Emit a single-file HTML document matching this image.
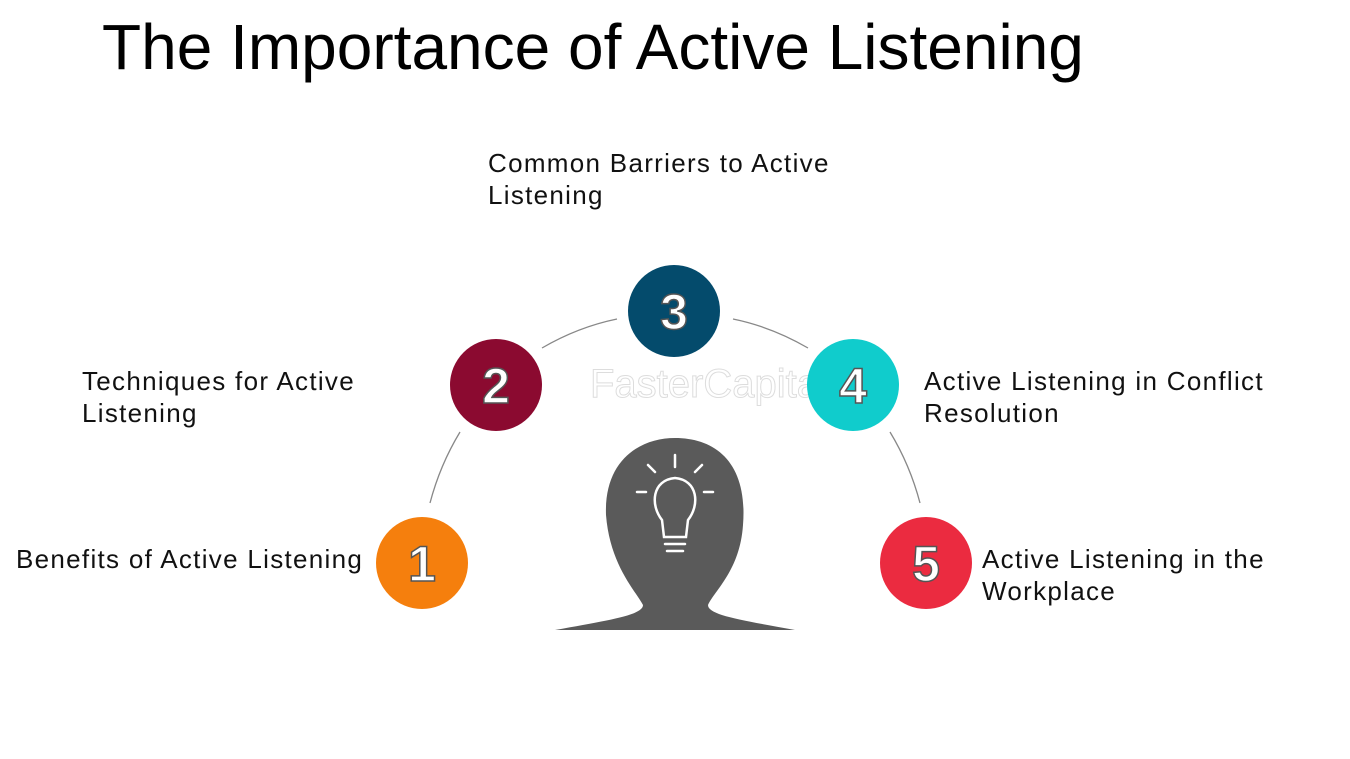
<!DOCTYPE html>
<html><head><style>
body{margin:0;width:1350px;height:759px;background:#fff;position:relative;overflow:hidden;font-family:"Liberation Sans",sans-serif}
.t{position:absolute;font-size:26px;line-height:32px;color:#111;letter-spacing:1.3px}
h1{position:absolute;left:102px;top:10px;margin:0;font-weight:normal;font-size:64px;color:#000}
</style></head><body>
<h1>The Importance of Active Listening</h1>
<div class="t" style="left:488px;top:147px">Common Barriers to Active<br>Listening</div>
<div class="t" style="left:82px;top:365px">Techniques for Active<br>Listening</div>
<div class="t" style="left:924px;top:365px">Active Listening in Conflict<br>Resolution</div>
<div class="t" style="left:16px;top:543px">Benefits of Active Listening</div>
<div class="t" style="left:982px;top:543px">Active Listening in the<br>Workplace</div>
<svg width="1350" height="759" style="position:absolute;left:0;top:0">
<g fill="none" stroke="#888" stroke-width="1.3">
<path d="M430 503 Q440 465 460 432"/>
<path d="M542 348 Q578 327 617 319"/>
<path d="M733 319 Q772 327 808 348"/>
<path d="M890 432 Q910 465 920 503"/>
</g>
<text x="590" y="397" font-size="40" fill="none" stroke="#ddd" stroke-width="1" font-family="Liberation Sans">FasterCapital</text>
<path d="M606 515 C604 460 640 438 675 438 C715 438 748 462 743 525 C740 570 715 590 708 605 C708 615 740 620 795 630 L555 630 C610 620 643 615 643 605 C635 590 610 565 606 515Z" fill="#5a5a5a"/>
<g fill="none" stroke="#fff" stroke-width="2.5" stroke-linecap="round">
<path d="M662 520 C650 505 652 480 675 478 C698 480 700 505 688 520 L686 537 L664 537Z"/>
<path d="M665 544 H685 M667 551 H683 M675 455 V467 M648 465 L655 472 M702 465 L695 472 M637 492 H646 M704 492 H713"/>
</g>
<g font-family="Liberation Sans" font-weight="bold" font-size="50" text-anchor="middle" fill="#fff" stroke="#555" stroke-width="1.5">
<circle cx="422" cy="563" r="46" fill="#f57f0d" stroke="none"/><text x="422" y="581">1</text>
<circle cx="496" cy="385" r="46" fill="#8b0a30" stroke="none"/><text x="496" y="403">2</text>
<circle cx="674" cy="311" r="46" fill="#044b6c" stroke="none"/><text x="674" y="329">3</text>
<circle cx="853" cy="385" r="46" fill="#10cccc" stroke="none"/><text x="853" y="403">4</text>
<circle cx="926" cy="563" r="46" fill="#eb2b40" stroke="none"/><text x="926" y="581">5</text>
</g>
</svg>
</body></html>
